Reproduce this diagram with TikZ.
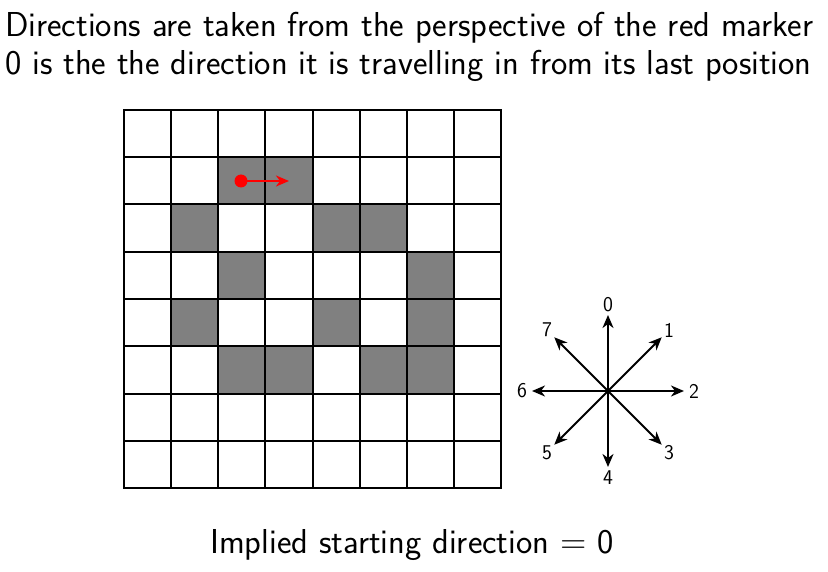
\documentclass[tikz,border=0pt]{standalone}
\usepackage{fontspec}
\usetikzlibrary{arrows.meta,calc}
\begin{document}
\begin{tikzpicture}[x=1pt,y=-1pt,
  gridline/.style={line width=2pt,draw=black},
  filled/.style={fill={rgb,255:red,128;green,128;blue,128}},
  tip/.style={-{Stealth[length=13pt,width=11pt,inset=4pt]}},
  compass/.style={line width=2pt,tip},
  clabel/.style={font=\sffamily\fontsize{21}{23}\selectfont,inner sep=0pt},
  bigtext/.style={font=\sffamily\fontsize{34.6}{40}\selectfont,inner sep=0pt,anchor=base west}]
\useasboundingbox (0,0) rectangle (828,572);
% title
\node[bigtext] (t1) at (5,37) {Directions are taken from the perspective of the red marker};
\node[bigtext] (t2) at (5,75) {0 is the the direction it is travelling in from its last position};
% grid cells
\def\cs{47.125}
\foreach \r/\c in {1/2,1/3,2/1,2/4,2/5,3/2,3/6,4/1,4/4,4/6,5/2,5/3,5/5,5/6}{
  \fill[filled] ({124+\c*\cs},{110+\r*47.25}) rectangle ({124+(\c+1)*\cs},{110+(\r+1)*47.25});
}
\foreach \i in {0,...,8}{
  \draw[gridline,line cap=rect] ({124+\i*\cs},110) -- ({124+\i*\cs},488);
  \draw[gridline,line cap=rect] (124,{110+\i*47.25}) -- (501,{110+\i*47.25});
}
% red marker
\coordinate (m) at (241,181);
\coordinate (mt) at (289,181);
\draw[red,line width=1.8pt,tip] (m) -- (mt);
\fill[red] (m) circle (6.5);
% compass
\coordinate (c) at (608,391);
\foreach \a/\n/\lx/\ly in {90/0/608/305, 45/1/669/330, 0/2/694/391, -45/3/669/453, -90/4/608/478, -135/5/547/453, 180/6/522/391, 135/7/547/330}{
  \coordinate (e\n) at ($(c)+({76*cos(\a)},{-76*sin(\a)})$);
  \draw[compass] (c) -- (e\n);
  \node[clabel] (l\n) at (\lx,\ly) {\n};
}
% bottom text
\node[bigtext] (b) at (210,553) {Implied starting direction {\fontsize{36}{40}\selectfont=} 0};
\end{tikzpicture}
\end{document}
